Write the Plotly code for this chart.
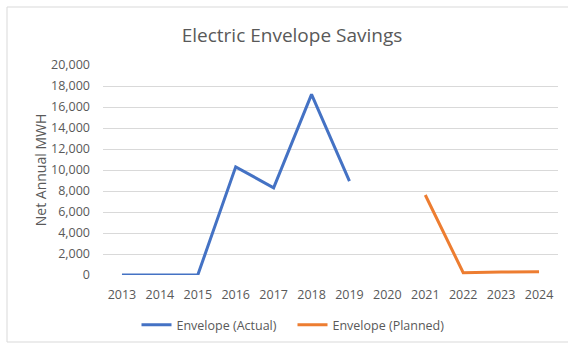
import plotly.graph_objects as go

years = ["2013", "2014", "2015", "2016", "2017", "2018", "2019",
         "2020", "2021", "2022", "2023", "2024"]
actual = [0, 0, 0, 10300, 8300, 17200, 8950, None, None, None, None, None]
planned = [None, None, None, None, None, None, None, None, 7620, 220, 280, 310]
y_ticks = list(range(0, 20001, 2000))

FONT = "Open Sans"
GREY = "#595959"
W, H = 568, 345

fig = go.Figure()
fig.add_trace(go.Scatter(x=years, y=actual, mode="lines", name="Envelope (Actual)",
                         line=dict(color="#4472C4", width=3)))
fig.add_trace(go.Scatter(x=years, y=planned, mode="lines", name="Envelope (Planned)",
                         line=dict(color="#ED7D31", width=3)))

fig.update_layout(
    width=W, height=H,
    paper_bgcolor="white", plot_bgcolor="white",
    margin=dict(l=103, r=10, t=65, b=70, autoexpand=False),
    font=dict(family=FONT, color=GREY, size=12.5),
    title=dict(text="Electric Envelope Savings", x=292 / W, xanchor="center",
               y=1 - 35 / H, yanchor="middle",
               font=dict(family=FONT, size=19, color=GREY)),
    showlegend=True,
    legend=dict(orientation="h", xref="container", yref="container",
                x=292.5 / W, xanchor="center", y=1 - 325 / H, yanchor="middle",
                font=dict(size=12.5, color=GREY), itemwidth=30,
                entrywidth=111, entrywidthmode="pixels"),
    xaxis=dict(type="category", range=[-0.5, 11.5], showgrid=False, zeroline=False,
               showline=False, ticks="", ticklabelstandoff=10,
               tickfont=dict(size=12.5, color=GREY)),
    yaxis=dict(range=[0, 20000], tickvals=y_ticks, tickformat=",d",
               showgrid=True, gridcolor="#D9D9D9", gridwidth=1, zeroline=False,
               showline=False, ticks="", ticklabelstandoff=12,
               tickfont=dict(size=12.5, color=GREY),
               title=dict(text="Net Annual MWH", font=dict(size=14, color=GREY),
                          standoff=1)),
    shapes=[dict(type="rect", xref="paper", yref="paper",
                 x0=-96 / 455, x1=1.03, y0=-67 / 210, y1=1 + 58 / 210,
                 line=dict(color="#D9D9D9", width=1), layer="below")],
)

fig.write_html("out.html")
